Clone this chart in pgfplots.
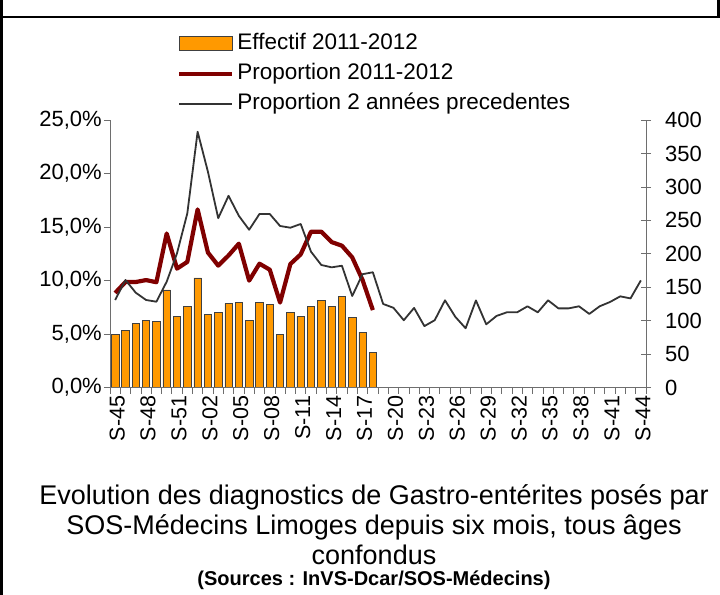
\documentclass[border=0pt]{standalone}
\usepackage{pgfplots}
\pgfplotsset{compat=1.18}
\usepackage{fontspec}
\setmainfont{Liberation Sans}

\definecolor{barorange}{HTML}{FF9900}
\definecolor{propred}{HTML}{800000}
\definecolor{propgray}{HTML}{333333}
\definecolor{axisgray}{HTML}{6E6E6E}

% effectif 2011-2012 (right axis)
\pgfplotstableread{
x y
0 80
1 86
2 96
3 101
4 99
5 146
6 107
7 122
8 164
9 110
10 113
11 126
12 128
13 101
14 128
15 125
16 80
17 113
18 107
19 121
20 131
21 122
22 137
23 105
24 83
25 53
}\effectif

% proportion 2011-2012 (%)
\pgfplotstableread{
x y
0 8.85
1 9.87
2 9.87
3 10.05
4 9.85
5 14.4
6 11.12
7 11.75
8 16.65
9 12.62
10 11.4
11 12.35
12 13.45
13 10.0
14 11.58
15 11.02
16 7.95
17 11.55
18 12.45
19 14.57
20 14.57
21 13.6
22 13.26
23 12.17
24 10.06
25 7.25
}\propcur

% proportion 2 annees precedentes (%)
\pgfplotstableread{
x y
0 8.19
1 10.06
2 8.87
3 8.19
4 8.03
5 9.9
6 12.55
7 16.28
8 23.9
9 20.17
10 15.83
11 17.92
12 16.05
13 14.75
14 16.22
15 16.22
16 15.1
17 14.94
18 15.29
19 12.7
20 11.46
21 11.24
22 11.39
23 8.56
24 10.6
25 10.78
26 7.82
27 7.46
28 6.3
29 7.45
30 5.75
31 6.3
32 8.16
33 6.62
34 5.55
35 8.15
36 5.92
37 6.70
38 7.04
39 7.04
40 7.60
41 7.04
42 8.16
43 7.41
44 7.41
45 7.60
46 6.89
47 7.60
48 8.0
49 8.53
50 8.34
51 10.02
}\propprev

\begin{document}
\begin{tikzpicture}[x=1bp,y=1bp]
\useasboundingbox (-110,-207.3) rectangle (610,387.7);
% cadre
\draw[line width=2.5bp] (-110,370.7) -- (610,370.7);
\draw[line width=2.5bp] (-108.5,387.7) -- (-108.5,-207.3);
\draw[line width=2.5bp] (608.5,387.7) -- (608.5,370.7);

\begin{axis}[
  scale only axis, width=536bp, height=267.7bp,
  xmin=-0.5, xmax=51.5, ymin=0, ymax=400,
  axis x line=none, axis y line*=right,
  ytick={0,50,...,400},
  y axis line style={axisgray, line width=0.8bp},
  ytick style={axisgray, line width=0.8bp},
  tick align=center, major tick length=10bp,
  yticklabel style={font=\fontsize{22bp}{26bp}\selectfont, inner sep=2bp, xshift=12bp},
  /pgf/number format/assume math mode=true,
]
\addplot[ybar, bar width=7.4bp, fill=barorange, draw=black!75, line width=0.6bp] table {\effectif};
\end{axis}

\begin{axis}[
  scale only axis, width=536bp, height=267.7bp,
  xmin=-0.5, xmax=51.5, ymin=0, ymax=25,
  axis x line*=bottom, axis y line*=left,
  axis line style={axisgray, line width=0.8bp},
  xtick={0,3,...,51},
  xticklabels={S-45,S-48,S-51,S-02,S-05,S-08,S-11,S-14,S-17,S-20,S-23,S-26,S-29,S-32,S-35,S-38,S-41,S-44},
  minor xtick={-0.5,0.5,...,51.5},
  major x tick style={draw=none},
  minor x tick style={axisgray, line width=0.8bp},
  minor tick length=6bp,
  tick align=outside,
  major tick length=6bp,
  ytick={0,5,...,25},
  ytick style={axisgray, line width=0.8bp},
  yticklabel={\pgfmathprintnumber[fixed,fixed zerofill,precision=1,use comma]{\tick}\%},
  yticklabel style={font=\fontsize{22bp}{26bp}\selectfont, inner sep=2bp},
  xticklabel style={rotate=90, anchor=east, font=\fontsize{21.5bp}{26bp}\selectfont, inner sep=2bp, yshift=-2bp},
  /pgf/number format/assume math mode=true,
  legend style={at={(0.125,1.325)}, anchor=north west, draw=none, fill=none,
    font=\fontsize{22.5bp}{26bp}\selectfont, inner sep=0pt, row sep=9bp,
    nodes={inner sep=0pt, text height=16bp, text depth=5bp},
    /tikz/every odd column/.append style={column sep=3bp}},
  legend cell align=left,
  legend image code/.code={\draw[#1] (0bp,0bp) -- (53bp,0bp);},
]
\addlegendimage{legend image code/.code={\draw[fill=barorange, draw=black!75, line width=0.6bp] (0bp,-7bp) rectangle (53bp,7bp);}}
\addlegendentry{Effectif 2011-2012}
\addplot[propred, line width=4.2bp, line join=round] table {\propcur};
\addlegendentry{Proportion 2011-2012}
\addplot[propgray, line width=1.8bp, line join=round] table {\propprev};
\addlegendentry{Proportion 2 années precedentes}
\end{axis}

\node[font=\fontsize{27bp}{30bp}\selectfont] at (264,-109.3) {Evolution des diagnostics de Gastro-entérites posés par};
\node[font=\fontsize{27bp}{30bp}\selectfont] at (264,-139.3) {SOS-Médecins Limoges depuis six mois, tous âges};
\node[font=\fontsize{27bp}{30bp}\selectfont] at (264,-167.3) {confondus};
\node[font=\fontsize{20bp}{24bp}\selectfont\bfseries] at (264,-192.3) {(Sources : InVS-Dcar/SOS-Médecins)};
\end{tikzpicture}
\end{document}
